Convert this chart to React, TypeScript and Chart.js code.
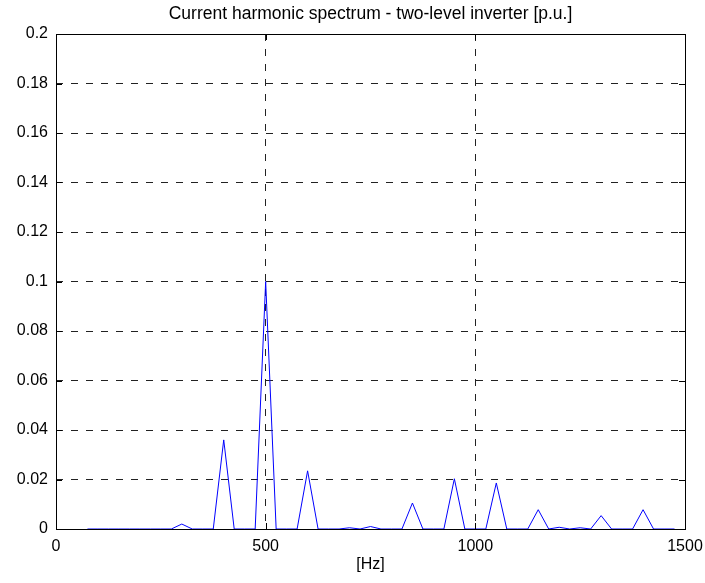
import React, { useEffect, useRef } from "react";
import { Chart, registerables } from "chart.js";

Chart.register(...registerables);

const titleText = "Current harmonic spectrum - two-level inverter [p.u.]";
const xAxisTitle = "[Hz]";

const freqs = [
  75, 100, 125, 150, 175, 200, 225, 250, 275, 300, 325, 350, 375, 400, 425, 450, 475, 500, 525, 550,
  575, 600, 625, 650, 675, 700, 725, 750, 775, 800, 825, 850, 875, 900, 925, 950, 975, 1000, 1025, 1050,
  1075, 1100, 1125, 1150, 1175, 1200, 1225, 1250, 1275, 1300, 1325, 1350, 1375, 1400, 1425, 1450, 1475,
];

const amplitudes = [
  0, 0, 0, 0, 0, 0, 0, 0, 0, 0.002, 0, 0, 0, 0.036, 0, 0, 0, 0.1, 0, 0,
  0, 0.0235, 0, 0, 0, 0.0005, 0, 0.001, 0, 0, 0, 0.0105, 0, 0, 0, 0.0203, 0, 0, 0, 0.0186,
  0, 0, 0, 0.0078, 0, 0.0007, 0, 0.0005, 0, 0.0054, 0, 0, 0, 0.0078, 0, 0, 0,
];

const xTicks = [0, 500, 1000, 1500];
const yTicks = [0, 0.02, 0.04, 0.06, 0.08, 0.1, 0.12, 0.14, 0.16, 0.18, 0.2];

const FONT = '"Liberation Sans", Arial, Helvetica, sans-serif';

const boxPlugin = {
  id: "matlabBox",
  afterDraw(chart: any) {
    const { ctx, chartArea } = chart;
    const { left, right, top, bottom } = chartArea;
    const xs = chart.scales.x;
    const ys = chart.scales.y;
    ctx.save();
    ctx.setLineDash([]);
    ctx.strokeStyle = "#000";
    ctx.lineWidth = 1;
    ctx.strokeRect(Math.round(left) + 0.5, Math.round(top) + 0.5, Math.round(right - left), Math.round(bottom - top));
    const tl = 6;
    ctx.beginPath();
    for (const v of xTicks) {
      const px = Math.round(xs.getPixelForValue(v)) + 0.5;
      ctx.moveTo(px, bottom);
      ctx.lineTo(px, bottom - tl);
      ctx.moveTo(px, top);
      ctx.lineTo(px, top + tl);
    }
    for (const v of yTicks) {
      const py = Math.round(ys.getPixelForValue(v)) + 0.5;
      ctx.moveTo(left, py);
      ctx.lineTo(left + tl, py);
      ctx.moveTo(right, py);
      ctx.lineTo(right - tl, py);
    }
    ctx.stroke();
    // title centred over the axes
    ctx.fillStyle = "#000";
    ctx.font = `17.5px ${FONT}`;
    ctx.textAlign = "center";
    ctx.textBaseline = "middle";
    ctx.fillText(titleText, (left + right) / 2, 14);
    ctx.restore();
  },
};

export default function App() {
  const canvasRef = useRef<HTMLCanvasElement | null>(null);

  useEffect(() => {
    const canvas = canvasRef.current;
    if (!canvas) return;
    const points = freqs.map((f, i) => ({ x: f, y: amplitudes[i] }));
    const chart = new Chart(canvas, {
      type: "line",
      data: {
        datasets: [
          {
            data: points,
            borderColor: "#0000ff",
            borderWidth: 1,
            pointRadius: 0,
            tension: 0,
            fill: false,
          },
        ],
      },
      options: {
        responsive: false,
        animation: false,
        devicePixelRatio: 1,
        layout: { padding: { left: 0, right: 20, top: 34, bottom: 0 } },
        plugins: {
          legend: { display: false },
          tooltip: { enabled: false },
          title: { display: false },
        },
        scales: {
          x: {
            type: "linear",
            min: 0,
            max: 1500,
            afterFit: (s: any) => {
              s.height = 54;
              s.paddingLeft = 0;
              s.paddingRight = 0;
            },
            afterBuildTicks: (s: any) => {
              s.ticks = xTicks.map((v) => ({ value: v }));
            },
            ticks: {
              color: "#000",
              font: { family: FONT, size: 16 },
              padding: 8,
              maxRotation: 0,
              autoSkip: false,
              callback: (v: any) => String(v),
            },
            grid: {
              color: "#222",
              lineWidth: 1,
              drawTicks: false,
            },
            border: { display: false, dash: [7, 8] },
            title: {
              display: true,
              text: xAxisTitle,
              color: "#000",
              font: { family: FONT, size: 16 },
              padding: { top: 0, bottom: 9 },
            },
          },
          y: {
            type: "linear",
            min: 0,
            max: 0.2,
            afterFit: (s: any) => {
              s.width = 56;
              s.paddingTop = 0;
              s.paddingBottom = 0;
            },
            afterBuildTicks: (s: any) => {
              s.ticks = yTicks.map((v) => ({ value: v }));
            },
            ticks: {
              color: "#000",
              font: { family: FONT, size: 16 },
              padding: 8,
              autoSkip: false,
              callback: (v: any) => String(Number(Number(v).toFixed(2))),
            },
            grid: {
              color: "#222",
              lineWidth: 1,
              drawTicks: false,
            },
            border: { display: false, dash: [7, 8] },
          },
        },
      },
      plugins: [boxPlugin],
    });
    return () => chart.destroy();
  }, []);

  return (
    <div style={{ position: "absolute", left: 0, top: 0, width: 705, height: 583, background: "#fff" }}>
      <canvas ref={canvasRef} width={705} height={583} style={{ display: "block" }} />
    </div>
  );
}
